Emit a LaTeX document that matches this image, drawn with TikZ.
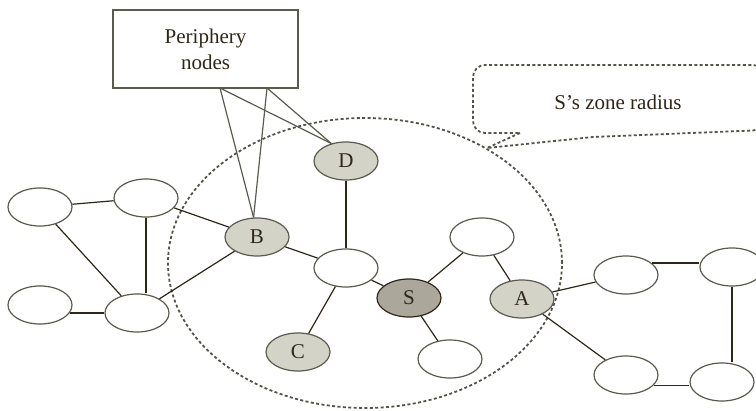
\documentclass[tikz,border=0pt]{standalone}
\usepackage{fontspec}
\setmainfont{Liberation Serif}
\usetikzlibrary{shapes.geometric}
\definecolor{edgedark}{HTML}{2E2719}
\definecolor{rimgray}{HTML}{5B5A4E}
\definecolor{perifill}{HTML}{D3D3C7}
\definecolor{srcfill}{HTML}{ABA79A}
\definecolor{zonegray}{HTML}{55544A}

\begin{document}
\begin{tikzpicture}[
    x=0.5pt, y=-0.5pt,
    every node/.style={font=\fontsize{10.5}{13}\selectfont, text=edgedark},
    host/.style={
        draw=rimgray, fill=#1, ellipse, line width=0.6pt,
        minimum width=32pt, minimum height=19pt, inner sep=0pt
    },
    host/.default=white,
    link/.style={draw=edgedark, line width=0.6pt},
    zone/.style={draw=zonegray, line width=0.9pt, dash pattern=on 1.5pt off 1.2pt},
    callbox/.style={draw=rimgray, line width=0.6pt, align=center,
        minimum width=92.5pt, minimum height=39pt},
    pointer/.style={draw=rimgray, line width=0.6pt},
]
\useasboundingbox (0,0) rectangle (756,411);

% Zone of S
\draw[zone] (365,263) ellipse [x radius=98.5pt, y radius=72.5pt];

% Left cluster
\node[host] (l1) at (40,207) {};
\node[host] (l2) at (146,198) {};
\node[host] (l3) at (40,305) {};
\node[host] (l4) at (137,313) {};

% Inside the zone
\node[host=perifill] (B) at (257,237) {B};
\node[host=perifill] (D) at (346,161) {D};
\node[host=perifill] (C) at (298,352) {C};
\node[host] (hub) at (346,268) {};
\node[host=srcfill, draw=edgedark] (S) at (409,298) {S};
\node[host] (up) at (482,237) {};
\node[host] (down) at (450,359) {};
\node[host=perifill] (A) at (522,299) {A};

% Right cluster
\node[host] (r1) at (626,275) {};
\node[host] (r2) at (732,267) {};
\node[host] (r3) at (626,375) {};
\node[host] (r4) at (722,382) {};

% Links
\draw[link] (l1) -- (l2);
\draw[link] (l1) -- (l4);
\draw[link] (l3.-15) -- (l3.-15 -| l4.west);
\draw[link] (l2.south) -- (l2.south |- l4.north);
\draw[link] (l2) -- (B);
\draw[link] (l4) -- (B);
\draw[link] (B) -- (hub);
\draw[link] (D) -- (hub);
\draw[link] (hub) -- (C);
\draw[link] (hub) -- (S);
\draw[link] (S) -- (up);
\draw[link] (S) -- (down);
\draw[link] (up) -- (A);
\draw[link] (A) -- (r1);
\draw[link] (A) -- (r3);
\draw[link] (r1.25) -- (r1.25 -| r2.west);
\draw[link] (r2.south) -- (r2.south |- r4.north);
\draw[link] (r3.-20) -- (r3.-20 -| r4.west);

% Periphery callout
\node[callbox] (peri) at (205.5,49) {Periphery\\nodes};
\coordinate (pl) at (220,88);
\coordinate (pr) at (267,88);
\draw[pointer] (pl) -- (B.100);
\draw[pointer] (pl) -- (D.130);
\draw[pointer] (pr) -- (B.100);
\draw[pointer] (pr) -- (D.130);

% Zone radius callout
\node (zonelbl) at (618,102) {S’s zone radius};
\draw[zone] (520,133) -- (487,148) -- (593,137) [rounded corners=6pt]
    -- (765,130) -- (765,65) -- (473,65) -- (473,133) [sharp corners] -- cycle;

\end{tikzpicture}
\end{document}
